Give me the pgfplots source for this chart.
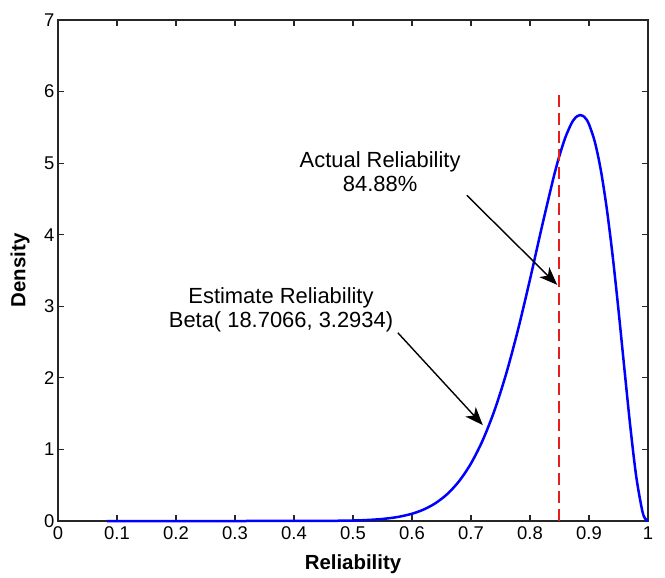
\documentclass[border=0pt]{standalone}
\usepackage{fontspec}
\setmainfont{Liberation Sans}
\usepackage{pgfplots}
\pgfplotsset{compat=1.18}
\usetikzlibrary{arrows.meta}
\begin{document}
\begin{tikzpicture}
\path[use as bounding box] (-58bp,-57bp) rectangle (607bp,521bp);
\begin{axis}[
  at={(0,0)}, anchor=south west,
  scale only axis, width=590bp, height=501bp,
  xmin=0, xmax=1, ymin=0, ymax=7,
  xtick={0,0.1,0.2,0.3,0.4,0.5,0.6,0.7,0.8,0.9,1},
  xticklabels={0,0.1,0.2,0.3,0.4,0.5,0.6,0.7,0.8,0.9,1},
  ytick={0,1,2,3,4,5,6,7},
  yticklabels={0,1,2,3,4,5,6,7},
  tick align=inside,
  major tick length=6bp,
  axis line style={line width=1.3bp, black!85},
  every tick/.style={line width=1.1bp, black!85},
  /pgf/number format/assume math mode=true,
  tick label style={font=\fontsize{18.5}{18.5}\selectfont},
  xticklabel style={yshift=-2bp},
  xlabel={Reliability}, ylabel={Density},
  label style={font=\fontsize{20.5}{20.5}\selectfont\bfseries},
  xlabel style={at={(axis description cs:0.5,-0.0858)}, anchor=center},
  ylabel style={at={(axis description cs:-0.0644,0.5)}, anchor=center},
  clip=false,
]
\addplot[blue, line width=2.5bp, smooth] coordinates {
(0.083,0) (0.2,0) (0.3,0) (0.4,0.0002) (0.45,0.0013) (0.5,0.0067) (0.525,0.0142)
(0.55,0.0285) (0.575,0.0549) (0.6,0.1015) (0.62,0.1613) (0.64,0.2500) (0.66,0.3781)
(0.68,0.5582) (0.70,0.8043) (0.72,1.1307) (0.74,1.5496) (0.76,2.0680) (0.78,2.6832)
(0.80,3.3760) (0.82,4.1055) (0.84,4.8012) (0.85,5.1059) (0.86,5.3617) (0.87,5.5513)
(0.875,5.6156) (0.88,5.6566) (0.885,5.6719) (0.89,5.6595) (0.895,5.6173) (0.90,5.5433)
(0.91,5.2942) (0.92,4.9037) (0.93,4.3718) (0.94,3.7100) (0.95,2.9454) (0.96,2.1253)
(0.97,1.3200) (0.98,0.6246) (0.99,0.1525) (0.995,0.0340) (1,0)
};
\addplot[color={rgb,255:red,230;green,30;blue,30}, line width=2.5bp, dash pattern=on 12bp off 6bp] coordinates {(0.8488,0) (0.8488,5.95)};
\node[align=center, font=\fontsize{22}{24}\selectfont] at (axis cs:0.546,4.88) {Actual Reliability\\84.88\%};
\node[align=center, font=\fontsize{22}{25}\selectfont] at (axis cs:0.378,2.95) {Estimate Reliability\\Beta( 18.7066, 3.2934)};
\draw[-{Stealth[length=18bp,width=14bp,inset=5bp]}, line width=1.4bp] (axis cs:0.693,4.55) -- (axis cs:0.846,3.30);
\draw[-{Stealth[length=18bp,width=14bp,inset=5bp]}, line width=1.4bp] (axis cs:0.576,2.63) -- (axis cs:0.720,1.34);
\end{axis}
\end{tikzpicture}
\end{document}
